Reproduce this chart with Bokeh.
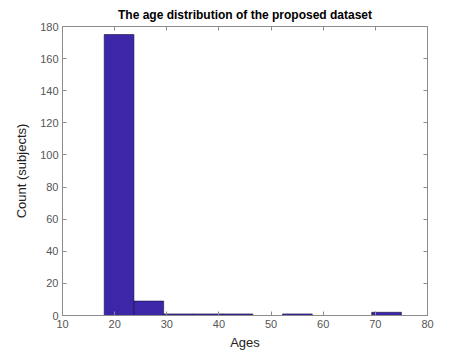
from bokeh.plotting import figure
from bokeh.models import LinearAxis, Range1d, FixedTicker, ColumnDataSource
from bokeh.embed import file_html
from bokeh.resources import INLINE

# Histogram data (bin edges and counts)
bin_left = [18.0, 23.7, 29.4, 35.1, 40.8, 46.5, 52.2, 57.9, 63.6, 69.3]
bin_right = [23.7, 29.4, 35.1, 40.8, 46.5, 52.2, 57.9, 63.6, 69.3, 75.0]
counts = [175, 9, 1, 1, 1, 0, 1, 0, 0, 2]

x_ticks = [10, 20, 30, 40, 50, 60, 70, 80]
y_ticks = [0, 20, 40, 60, 80, 100, 120, 140, 160, 180]

FONT = "Liberation Sans"
TICK_COLOR = "#555555"

p = figure(width=472, height=354, output_backend="svg", toolbar_location=None,
           x_range=Range1d(10, 80), y_range=Range1d(0, 180),
           min_border_left=62, min_border_right=45, min_border_top=26,
           min_border_bottom=39, x_axis_label="Ages", y_axis_label="Count (subjects)")

p.title.text = "The age distribution of the proposed dataset"
p.title.text_font = FONT
p.title.text_font_size = "12px"
p.title.text_font_style = "bold"
p.title.align = "center"
p.title.text_color = "#000000"

src = ColumnDataSource(dict(left=bin_left, right=bin_right, top=counts,
                            bottom=[0] * len(counts)))
p.quad(left="left", right="right", top="top", bottom="bottom", source=src,
       fill_color="#3E26A8", line_color="#1a1040", line_width=0.6)

p.grid.visible = False
p.outline_line_color = "#8c8c8c"
p.outline_line_width = 1
p.background_fill_color = "white"
p.border_fill_color = "white"

for ax, ticks in ((p.xaxis[0], x_ticks), (p.yaxis[0], y_ticks)):
    ax.ticker = FixedTicker(ticks=ticks)
    ax.minor_tick_line_color = None
    ax.major_tick_in = 4
    ax.major_tick_out = 0
    ax.axis_line_color = "#8c8c8c"
    ax.major_tick_line_color = "#8c8c8c"
    ax.major_label_text_font = FONT
    ax.major_label_text_font_size = "11px"
    ax.major_label_text_color = TICK_COLOR
    ax.axis_label_text_font = FONT
    ax.axis_label_text_font_size = "13px"
    ax.axis_label_text_font_style = "normal"
    ax.axis_label_text_color = "#222222"

p.xaxis[0].major_label_standoff = 4
p.xaxis[0].axis_label_standoff = 4
p.yaxis[0].major_label_standoff = 4
p.yaxis[0].axis_label_standoff = 8

for side, ticks in (("right", y_ticks), ("above", x_ticks)):
    ax = LinearAxis(ticker=FixedTicker(ticks=ticks))
    ax.major_label_overrides = {t: "" for t in ticks}
    ax.major_label_standoff = 0
    ax.minor_tick_line_color = None
    ax.major_tick_in = 4
    ax.major_tick_out = 0
    ax.axis_line_color = "#8c8c8c"
    ax.major_tick_line_color = "#8c8c8c"
    p.add_layout(ax, side)

open("out.html", "w").write(file_html(p, INLINE))
